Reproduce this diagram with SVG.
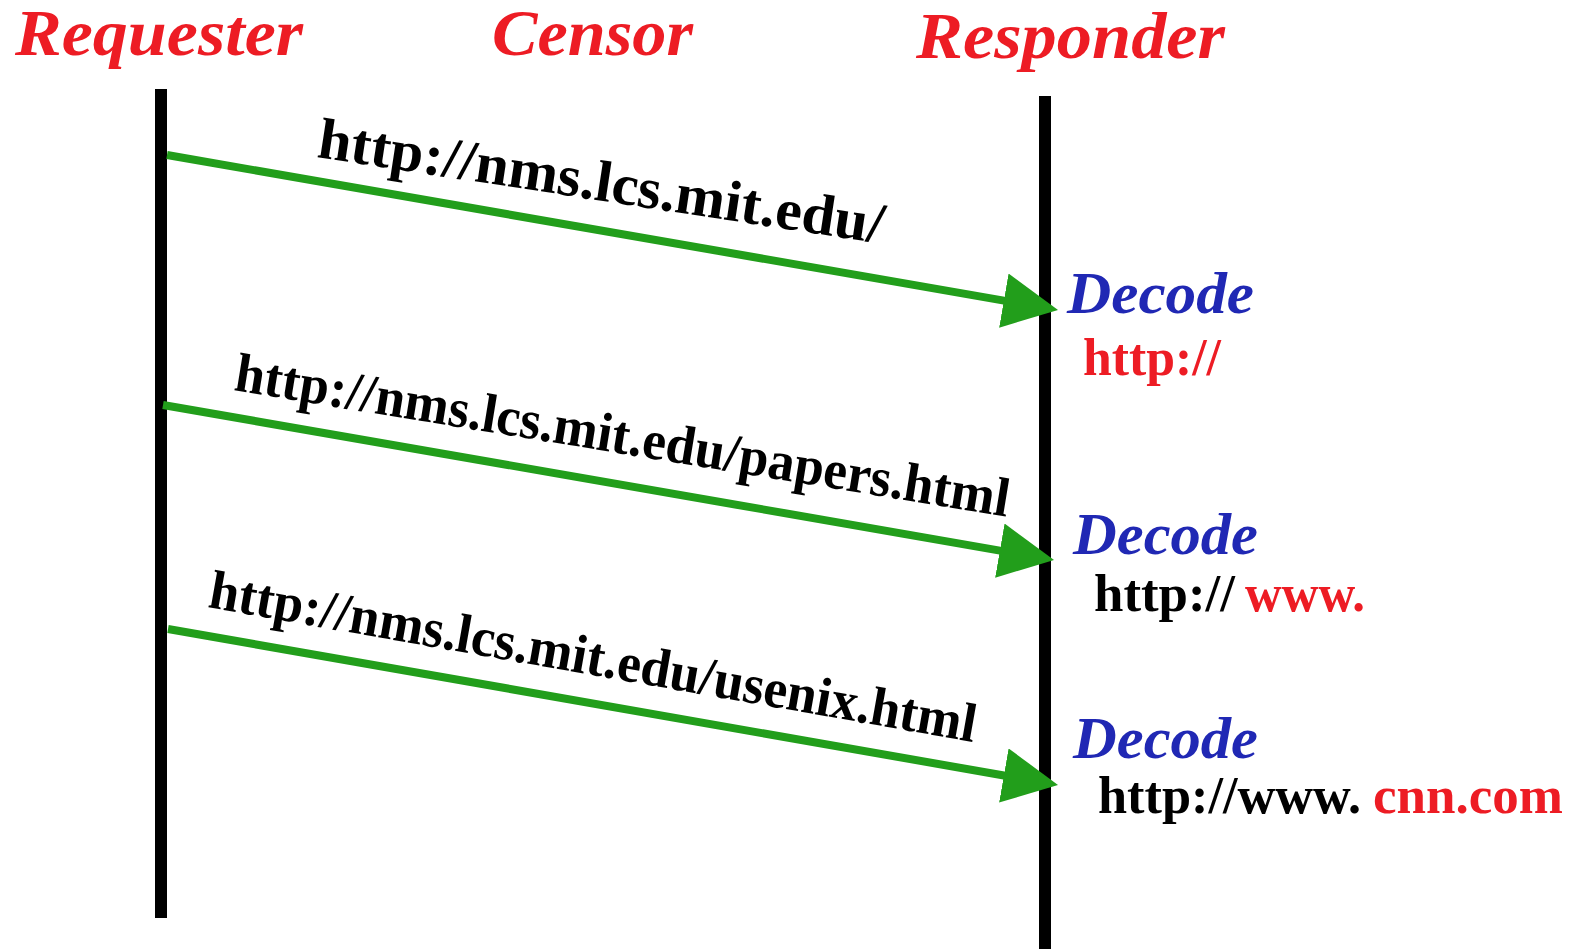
<svg xmlns="http://www.w3.org/2000/svg" width="1576" height="949" viewBox="0 0 1576 949">
  <style>
    .title { font-family: "Liberation Serif", "Times New Roman", serif; font-weight: bold; font-style: italic; font-size: 65px; fill: #ed1c24; }
    .decode { font-family: "Liberation Serif", "Times New Roman", serif; font-weight: bold; font-style: italic; font-size: 60px; fill: #2028b4; }
    .url { font-family: "Liberation Serif", "Times New Roman", serif; font-weight: bold; font-size: 55px; fill: #000000; }
    .res { font-family: "Liberation Serif", "Times New Roman", serif; font-weight: bold; font-size: 52px; fill: #000000; }
    .red { fill: #ed1c24; }
    .lifeline { stroke: #000000; stroke-width: 12; fill: none; }
    .msg { stroke: #229e1b; stroke-width: 8; fill: none; marker-end: url(#head); }
  </style>
  <defs>
    <marker id="head" viewBox="0 -27.5 55 55" markerWidth="55" markerHeight="55" markerUnits="userSpaceOnUse" refX="3" refY="0" orient="auto">
      <path d="M0,-27.5 L55,0 L0,27.5 Z" fill="#229e1b"/>
    </marker>
  </defs>
  <rect x="0" y="0" width="1576" height="949" fill="#ffffff"/>

  <g id="requester">
    <text class="title" x="15" y="55" textLength="288" lengthAdjust="spacingAndGlyphs">Requester</text>
    <line class="lifeline" x1="161" y1="89" x2="161" y2="918"/>
  </g>
  <g id="censor">
    <text class="title" x="492" y="55" textLength="201" lengthAdjust="spacingAndGlyphs">Censor</text>
  </g>
  <g id="responder">
    <text class="title" x="916" y="58" textLength="309" lengthAdjust="spacingAndGlyphs">Responder</text>
    <line class="lifeline" x1="1045" y1="96" x2="1045" y2="949"/>
  </g>

  <g id="connectors">
    <line class="msg" x1="167" y1="155" x2="1006.8" y2="301.1"/>
    <line class="msg" x1="163" y1="405" x2="1002.8" y2="551.1"/>
    <line class="msg" x1="168" y1="629" x2="1006.8" y2="776"/>
  </g>

  <g id="labels">
    <text class="url" x="316" y="157" transform="rotate(8.7 316 157)" textLength="572" lengthAdjust="spacingAndGlyphs" style="font-size:58px">http://nms.lcs.mit.edu/</text>
    <text class="url" x="233" y="390" transform="rotate(9.3 233 390)" textLength="784" lengthAdjust="spacingAndGlyphs">http://nms.lcs.mit.edu/papers.html</text>
    <text class="url" x="207" y="607" transform="rotate(10 207 607)" textLength="778" lengthAdjust="spacingAndGlyphs">http://nms.lcs.mit.edu/usenix.html</text>
  </g>

  <g id="decode1">
    <text class="decode" x="1067" y="313" textLength="187" lengthAdjust="spacingAndGlyphs">Decode</text>
    <text class="res red" x="1083" y="375" textLength="138" lengthAdjust="spacingAndGlyphs">http://</text>
  </g>
  <g id="decode2">
    <text class="decode" x="1073" y="554" textLength="185" lengthAdjust="spacingAndGlyphs">Decode</text>
    <text class="res" x="1094" y="611" textLength="141" lengthAdjust="spacingAndGlyphs">http://</text>
    <text class="res red" x="1245" y="611" textLength="120" lengthAdjust="spacingAndGlyphs">www.</text>
  </g>
  <g id="decode3">
    <text class="decode" x="1073" y="758" textLength="185" lengthAdjust="spacingAndGlyphs">Decode</text>
    <text class="res" x="1098" y="813" textLength="263" lengthAdjust="spacingAndGlyphs">http://www.</text>
    <text class="res red" x="1373" y="813" textLength="190" lengthAdjust="spacingAndGlyphs">cnn.com</text>
  </g>
</svg>
